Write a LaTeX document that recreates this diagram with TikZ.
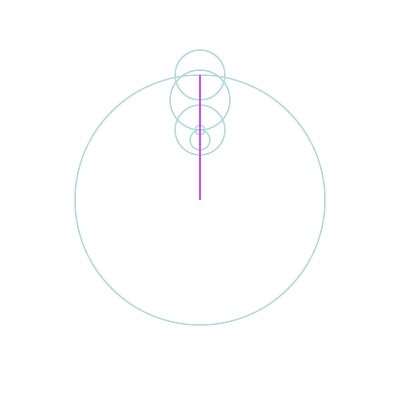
\documentclass[tikz,border=0pt]{standalone}
\begin{document}
\begin{tikzpicture}[x=1pt,y=-1pt,
  ring/.style={draw={rgb,255:red,180;green,218;blue,220}, line width=1.5pt},
  seg/.style={draw={rgb,255:red,200;green,80;blue,240}, line width=1.5pt}]
\useasboundingbox[fill=white] (0,0) rectangle (400,400);
\draw[ring] (200,200) circle[radius=125];
\draw[ring] (200,75) circle[radius=25];
\draw[ring] (200,100) circle[radius=30];
\draw[ring] (200,130) circle[radius=25];
\draw[ring] (200,140) circle[radius=10];
\draw[ring] (200,130) circle[radius=5];
\coordinate (p) at (200,75);
\coordinate (q) at (200,200);
\draw[seg] (p) -- (q);
\end{tikzpicture}
\end{document}
